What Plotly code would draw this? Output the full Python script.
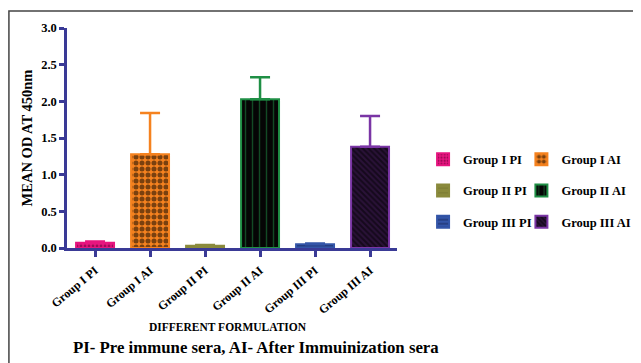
import plotly.graph_objects as go

categories = ["Group I PI", "Group I AI", "Group II PI", "Group II AI", "Group III PI", "Group III AI"]
means = [0.07, 1.28, 0.03, 2.03, 0.05, 1.38]
errors = [0.02, 0.56, 0.01, 0.30, 0.01, 0.42]
y_ticks = [0.0, 0.5, 1.0, 1.5, 2.0, 2.5, 3.0]

line_colors = ["#e6157f", "#f5821f", "#8a8a3c", "#1f8f45", "#3355a8", "#7a35a5"]
bg_colors = ["#e6157f", "#f5821f", "#8a8a3c", "#050505", "#3355a8", "#2a1238"]
fg_colors = ["#5a0030", "#000000", "#6a6a2a", "#1f8f45", "#101840", "#000000"]
shapes_pat = [".", ".", "-", "|", "-", "\\"]
sizes = [4, 6, 6, 7, 5, 4]
solid = [0.4, 0.55, 0.2, 0.2, 0.35, 0.5]

FONT = "Liberation Serif"
AXC = "#3a3a96"

fig = go.Figure()
for i, c in enumerate(categories):
    leg = "legend" if i % 2 == 0 else "legend2"
    fig.add_trace(go.Bar(
        x=[c], y=[means[i]], name=c, width=0.69,
        marker=dict(color=bg_colors[i], line=dict(color=line_colors[i], width=2),
                    pattern=dict(shape=shapes_pat[i], fgcolor=fg_colors[i], bgcolor=bg_colors[i],
                                 size=sizes[i], solidity=solid[i], fillmode="overlay")),
        error_y=dict(type="data", array=[errors[i]], arrayminus=[0], symmetric=False,
                     color=line_colors[i], thickness=2.5, width=10),
        legend=leg, legendgroup=c,
    ))

fig.update_layout(
    width=641, height=363,
    margin=dict(l=59, r=252, t=20, b=123),
    paper_bgcolor="white", plot_bgcolor="white",
    font=dict(family=FONT, color="black"),
    showlegend=True,
    legend=dict(x=1.079, y=0.47, xanchor="left", yanchor="top", tracegroupgap=12,
                font=dict(family=FONT, size=12.5, color="black", weight="bold"),
                bgcolor="rgba(0,0,0,0)"),
    legend2=dict(x=1.377, y=0.47, xanchor="left", yanchor="top", tracegroupgap=12,
                 font=dict(family=FONT, size=12.5, color="black", weight="bold"),
                 bgcolor="rgba(0,0,0,0)"),
    bargap=0.3,
)
fig.update_xaxes(
    type="category", categoryorder="array", categoryarray=categories,
    range=[-0.51, 5.49], showline=True, linecolor=AXC, linewidth=2.5,
    ticks="outside", ticklen=6, tickwidth=2.5, tickcolor=AXC, tickangle=-40,
    ticklabelstandoff=2,
    tickfont=dict(family=FONT, size=12, color="black", weight="bold"),
    showgrid=False, zeroline=False, automargin=False,
)
fig.update_yaxes(
    range=[0, 3.0], tickvals=y_ticks, ticktext=[f"{v:.1f}" for v in y_ticks],
    showline=True, linecolor=AXC, linewidth=2.5,
    ticks="outside", ticklen=5, tickwidth=2.5, tickcolor=AXC,
    tickfont=dict(family=FONT, size=12.5, color="black", weight="bold"),
    title=dict(text="MEAN OD AT 450nm", standoff=6,
               font=dict(family=FONT, size=14.5, color="black", weight="bold")),
    showgrid=False, zeroline=False, automargin=False,
)
fig.add_annotation(x=0.488, y=-0.359, xref="paper", yref="paper", showarrow=False,
                   xanchor="center", yanchor="middle",
                   text="<b>DIFFERENT FORMULATION</b>", font=dict(family=FONT, size=11.5, color="black"))
fig.add_annotation(x=0.573, y=-0.45, xref="paper", yref="paper", showarrow=False,
                   xanchor="center", yanchor="middle",
                   text="<b>PI- Pre immune sera, AI- After Immuinization sera</b>",
                   font=dict(family=FONT, size=16.8, color="black"))
fig.add_shape(type="rect", xref="paper", yref="paper", x0=-0.176, x1=1.76, y0=-0.55, y1=1.077,
              line=dict(color="#444444", width=1.5))

fig.write_html("out.html")
